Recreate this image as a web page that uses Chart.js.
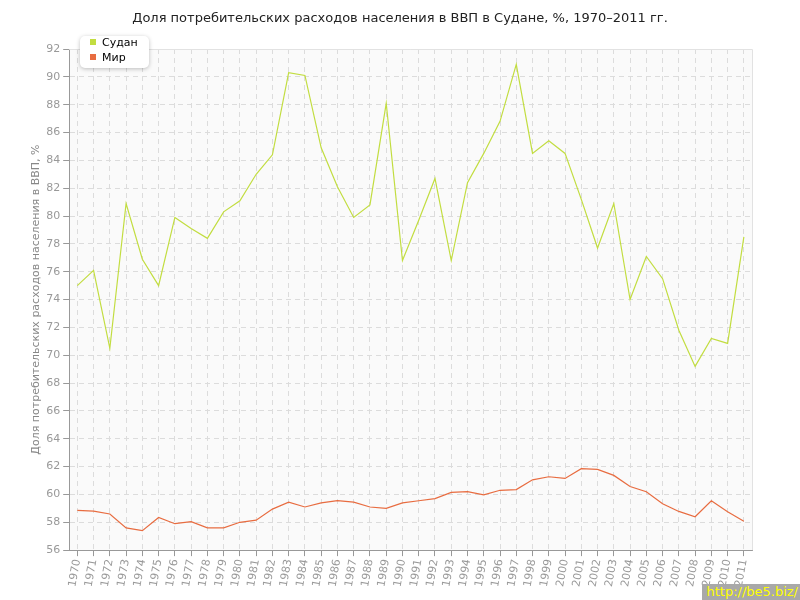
<!DOCTYPE html>
<html><head><meta charset="utf-8">
<script src="https://cdn.jsdelivr.net/npm/chart.js@4/dist/chart.umd.min.js"></script>
<style>
body{margin:0;background:#fff;font-family:"DejaVu Sans",sans-serif}
#wrap{position:relative;width:800px;height:600px}
#title{position:absolute;left:0;top:9px;width:800px;text-align:center;font-size:13px;color:#222;line-height:18px}
#legend{position:absolute;left:80px;top:36px;width:69px;height:32px;background:#fff;border-radius:5px;box-shadow:0 1px 4px rgba(0,0,0,0.25);font-size:11px;color:#000}
#legend .it{position:absolute;left:10px;height:14px;line-height:14px}
#legend .sw{display:inline-block;width:6px;height:6px;margin-right:6px;vertical-align:1px}
#wm{position:absolute;right:0;bottom:0;background:#a9a9a9;color:#ffff00;font-size:13px;padding:0 2px 0 4px;line-height:16px;font-family:"DejaVu Sans",sans-serif}
</style></head>
<body><div id="wrap"><canvas id="c" width="800" height="600"></canvas><div id="title"></div><div id="legend"></div><div id="wm">http://be5.biz/</div></div>
<script>
const years = ["1970","1971","1972","1973","1974","1975","1976","1977","1978","1979","1980","1981","1982","1983","1984","1985","1986","1987","1988","1989","1990","1991","1992","1993","1994","1995","1996","1997","1998","1999","2000","2001","2002","2003","2004","2005","2006","2007","2008","2009","2010","2011"];
const sudan = [75.0,76.1,70.5,80.9,76.9,75.0,79.9,79.1,78.4,80.3,81.1,83.0,84.4,90.3,90.1,84.9,82.1,79.9,80.8,88.1,76.8,79.7,82.7,76.8,82.4,84.5,86.8,90.9,84.5,85.4,84.5,81.2,77.7,80.9,74.0,77.1,75.5,71.8,69.2,71.2,70.85,78.5];
const world = [58.85,58.8,58.6,57.6,57.4,58.35,57.9,58.05,57.6,57.6,58.0,58.15,58.95,59.45,59.1,59.4,59.55,59.45,59.1,59.0,59.4,59.55,59.7,60.15,60.2,59.97,60.3,60.35,61.05,61.27,61.15,61.85,61.8,61.37,60.57,60.2,59.33,58.78,58.4,59.55,58.75,58.08];
const seriesNames = ["Судан","Мир"];
const seriesColors = ["#c2dd40","#e86c40"];
const titleText = "Доля потребительских расходов населения в ВВП в Судане, %, 1970–2011 гг.";
const yTitle = "Доля потребительских расходов населения в ВВП, %";
document.getElementById('title').textContent = titleText;

const bgPlugin = {
  id:'bg',
  beforeDraw(chart){
    const {ctx, chartArea:a} = chart;
    ctx.save(); ctx.fillStyle='#fafafa'; ctx.fillRect(a.left,a.top,a.right-a.left,a.bottom-a.top); ctx.restore();
  },
  afterDraw(chart){
    const {ctx, chartArea:a} = chart;
    ctx.save(); ctx.strokeStyle='#e2e2e2'; ctx.lineWidth=1;
    ctx.beginPath(); ctx.moveTo(a.left,a.top+0.5); ctx.lineTo(a.right+0.5,a.top+0.5); ctx.lineTo(a.right+0.5,a.bottom); ctx.stroke(); ctx.restore();
  }
};

Chart.defaults.font.family = "'DejaVu Sans', sans-serif";
new Chart(document.getElementById('c'), {
  type:'line',
  data:{labels:years, datasets:[
    {label:seriesNames[0], data:sudan, borderColor:seriesColors[0], backgroundColor:seriesColors[0], borderWidth:1.2, pointRadius:0, tension:0},
    {label:seriesNames[1], data:world, borderColor:seriesColors[1], backgroundColor:seriesColors[1], borderWidth:1.2, pointRadius:0, tension:0}
  ]},
  options:{
    responsive:false, animation:false,
    layout:{padding:{left:30,right:48,top:49,bottom:10}},
    plugins:{ legend:{display:false}, tooltip:{enabled:false}, title:{display:false} },
    scales:{
      x:{offset:true,
        grid:{color:'#dcdcdc', tickLength:6, tickColor:'#999', tickBorderDash:[], offset:false},
        border:{color:'#999', dash:[5,4]},
        ticks:{color:'#999', font:{size:11}, minRotation:80, maxRotation:80, autoSkip:false, padding:2}
      },
      y:{min:56, max:92,
        grid:{color:'#dcdcdc', tickLength:6, tickColor:'#999', tickBorderDash:[]},
        border:{color:'#999', dash:[5,4]},
        ticks:{color:'#999', font:{size:11}, stepSize:2, padding:3},
        title:{display:true, text:yTitle, color:'#888', font:{size:11}, padding:{top:0,bottom:0}}
      }
    }
  },
  plugins:[bgPlugin]
});
const lg = document.getElementById('legend');
seriesNames.forEach((n,i)=>{
  const d=document.createElement('div'); d.className='it'; d.style.top=(i===0?0:15)+'px';
  d.innerHTML='<span class="sw" style="background:'+seriesColors[i]+'"></span>'+n; lg.appendChild(d);
});
</script></body></html>
